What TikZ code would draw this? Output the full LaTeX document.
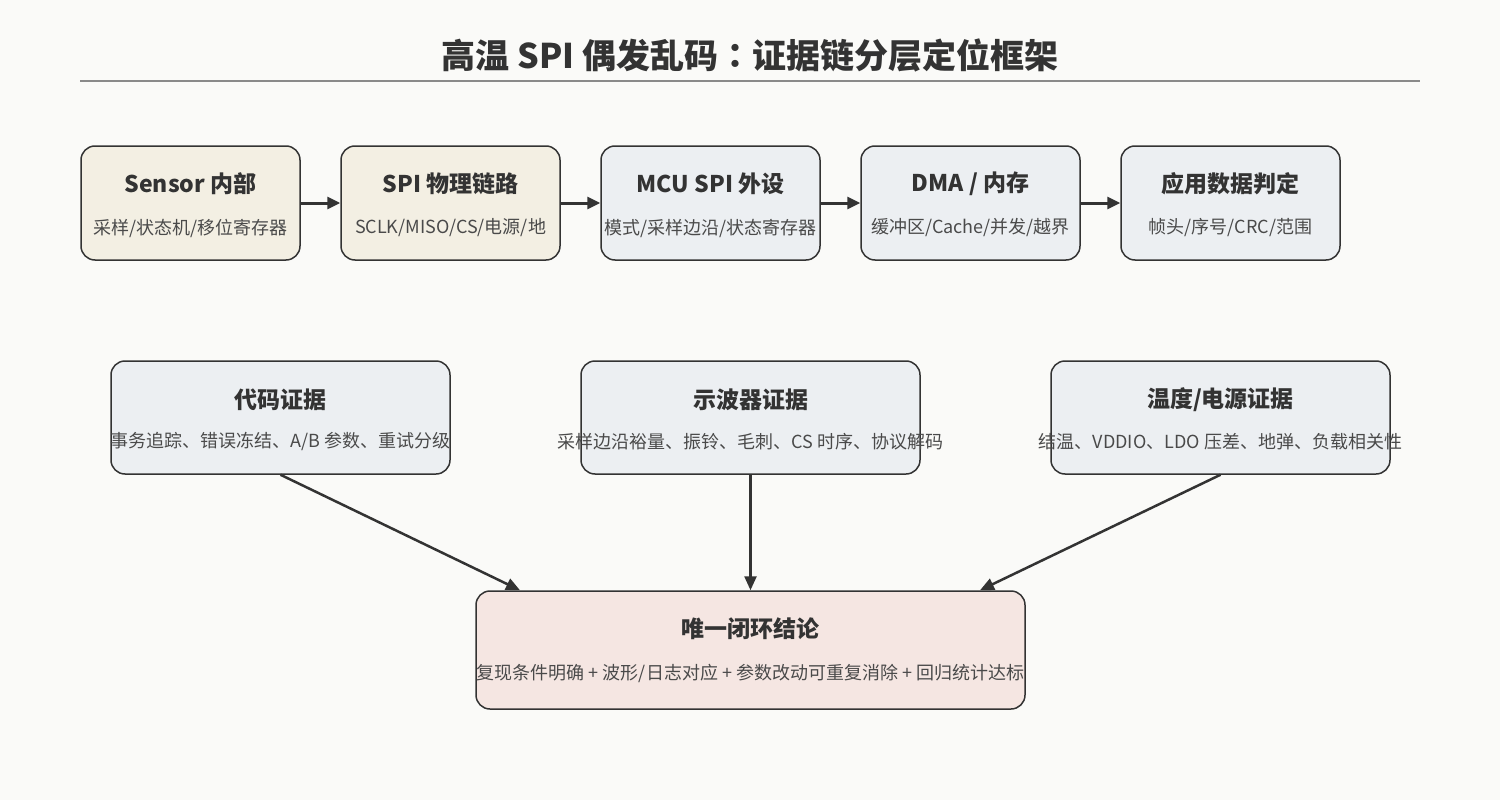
\documentclass[tikz,border=0pt]{standalone}
\usepackage{fontspec}
\setmainfont{Noto Sans CJK SC}
\newfontfamily\colonfont{Noto Sans CJK JP}
\usetikzlibrary{arrows.meta,calc}
\definecolor{bg}{HTML}{FAFAF8}
\definecolor{ink}{HTML}{333333}
\definecolor{subink}{HTML}{4A4A4A}
\definecolor{beige}{HTML}{F3EFE3}
\definecolor{bluegray}{HTML}{ECEFF2}
\definecolor{rose}{HTML}{F5E6E2}
\definecolor{rule}{HTML}{8A8A8A}
\tikzset{
  box/.style={draw=ink, line width=1.5pt, rounded corners=14pt, inner sep=0pt},
  ttl/.style={text=ink, font=\fontsize{23}{27}\selectfont\bfseries, inner sep=0pt},
  sub/.style={text=subink, font=\fontsize{18}{22}\selectfont, inner sep=0pt},
  arr/.style={draw=ink, line width=3pt, -{Triangle[length=13pt,width=12pt]}},
  arrb/.style={draw=ink, line width=2.5pt, -{Triangle[length=14pt,width=12pt]}}
}
\begin{document}
\begin{tikzpicture}[x=1pt,y=-1pt]
\fill[bg] (0,0) rectangle (1500,800);
\useasboundingbox (0,0) rectangle (1500,800);
\node[text=ink, font=\fontsize{34}{40}\selectfont\bfseries, inner sep=0pt] (title) at (750,55) {高温 SPI 偶发乱码{\colonfont\bfseries ：}证据链分层定位框架};
\coordinate (rl) at (80,81);
\coordinate (rr) at (1420,81);
\draw[rule, line width=2pt] (rl) -- (rr);

% row 1
\node[box, fill=beige, minimum width=219pt, minimum height=114pt] (s1) at (190.5,203) {};
\node[box, fill=beige, minimum width=219pt, minimum height=114pt] (s2) at (450.5,203) {};
\node[box, fill=bluegray, minimum width=219pt, minimum height=114pt] (s3) at (710.5,203) {};
\node[box, fill=bluegray, minimum width=219pt, minimum height=114pt] (s4) at (970.5,203) {};
\node[box, fill=bluegray, minimum width=219pt, minimum height=114pt] (s5) at (1230.5,203) {};
\node[ttl] (s1t) at ($(s1.center)+(0,-19)$) {Sensor 内部};
\node[sub] (s1s) at ($(s1.center)+(0,25)$) {采样/状态机/移位寄存器};
\node[ttl] (s2t) at ($(s2.center)+(0,-19)$) {SPI 物理链路};
\node[sub] (s2s) at ($(s2.center)+(0,25)$) {SCLK/MISO/CS/电源/地};
\node[ttl] (s3t) at ($(s3.center)+(0,-19)$) {MCU SPI 外设};
\node[sub] (s3s) at ($(s3.center)+(0,25)$) {模式/采样边沿/状态寄存器};
\node[ttl] (s4t) at ($(s4.center)+(0,-19)$) {DMA / 内存};
\node[sub] (s4s) at ($(s4.center)+(0,25)$) {缓冲区/Cache/并发/越界};
\node[ttl] (s5t) at ($(s5.center)+(0,-19)$) {应用数据判定};
\node[sub] (s5s) at ($(s5.center)+(0,25)$) {帧头/序号/CRC/范围};
\draw[arr] (s1.east) -- (s2.west);
\draw[arr] (s2.east) -- (s3.west);
\draw[arr] (s3.east) -- (s4.west);
\draw[arr] (s4.east) -- (s5.west);

% row 2
\node[box, fill=bluegray, minimum width=339pt, minimum height=113pt] (e1) at (280.5,417.5) {};
\node[box, fill=bluegray, minimum width=339pt, minimum height=113pt] (e2) at (750.5,417.5) {};
\node[box, fill=bluegray, minimum width=339pt, minimum height=113pt] (e3) at (1220.5,417.5) {};
\node[ttl] (e1t) at ($(e1.center)+(0,-18)$) {代码证据};
\node[sub] (e1s) at ($(e1.center)+(0,24)$) {事务追踪、错误冻结、A/B 参数、重试分级};
\node[ttl] (e2t) at ($(e2.center)+(0,-18)$) {示波器证据};
\node[sub] (e2s) at ($(e2.center)+(0,24)$) {采样边沿裕量、振铃、毛刺、CS 时序、协议解码};
\node[ttl] (e3t) at ($(e3.center)+(0,-18)$) {温度/电源证据};
\node[sub] (e3s) at ($(e3.center)+(0,24)$) {结温、VDDIO、LDO 压差、地弹、负载相关性};

% conclusion
\node[box, fill=rose, minimum width=549pt, minimum height=118pt] (c) at (750.5,650) {};
\node[ttl] (ct) at ($(c.center)+(0,-21)$) {唯一闭环结论};
\node[sub] (cs) at ($(c.center)+(0,23)$) {复现条件明确 + 波形/日志对应 + 参数改动可重复消除 + 回归统计达标};
\coordinate (ca) at ($(c.north)+(-230.5,0)$);
\coordinate (cc) at ($(c.north)+(229.5,0)$);
\draw[arrb] (e1.south) -- (ca);
\draw[arrb] (e2.south) -- (c.north);
\draw[arrb] (e3.south) -- (cc);
\end{tikzpicture}
\end{document}
